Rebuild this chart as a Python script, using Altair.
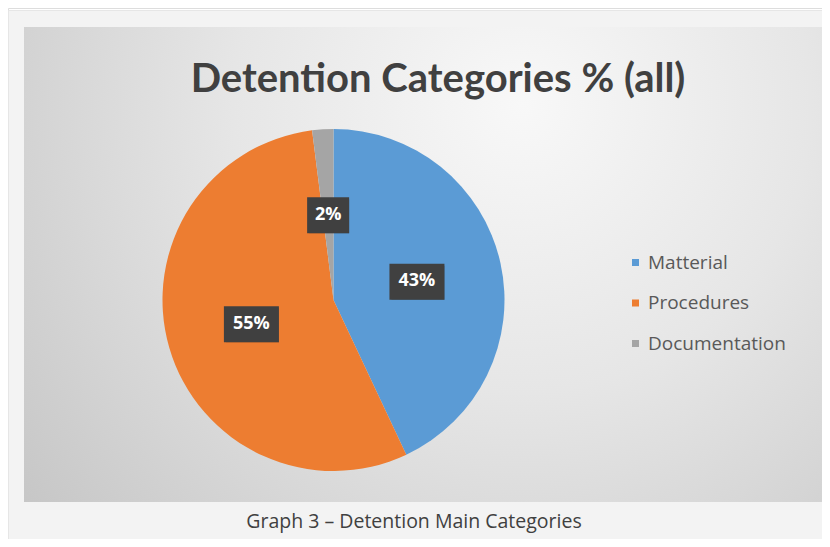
import altair as alt
import pandas as pd

categories = ["Matterial", "Procedures", "Documentation"]
values = [43, 55, 2]
colors = ["#5b9bd5", "#ed7d31", "#a5a5a5"]
title_text = "Detention Categories % (all)"
caption_text = "Graph 3 \u2013 Detention Main Categories"

df = pd.DataFrame({"category": categories, "value": values,
                   "order": list(range(len(categories)))})

W, H = 814, 531
CX, CY, R = 325.5, 292, 171
one = pd.DataFrame({"a": [0]})

outer = alt.Chart(one).mark_rect(color="#f3f3f3", stroke="#e6e6e6", strokeWidth=1).encode(
    x=alt.value(0.5), x2=alt.value(830), y=alt.value(2.5), y2=alt.value(545))

grad = alt.Gradient(
    gradient="radial",
    stops=[alt.GradientStop(color="#f8f8f8", offset=0),
           alt.GradientStop(color="#e6e6e6", offset=0.45),
           alt.GradientStop(color="#c6c6c6", offset=1)],
    x1=0.62, y1=0.3, r1=0, x2=0.62, y2=0.3, r2=0.8)

inner = alt.Chart(one).mark_rect(color=grad).encode(
    x=alt.value(16), x2=alt.value(819), y=alt.value(19), y2=alt.value(494))

pie = alt.Chart(df).mark_arc(radius=R).encode(
    theta=alt.Theta("value:Q", stack=True),
    color=alt.Color("category:N",
                    scale=alt.Scale(domain=categories, range=colors),
                    legend=alt.Legend(orient="none", legendX=618, legendY=245, title=None,
                                      symbolType="square", symbolSize=49, symbolStrokeWidth=0,
                                      labelFontSize=19, labelFont="Open Sans",
                                      labelColor="#595959", rowPadding=20.5, padding=0,
                                      labelOffset=3)),
    order=alt.Order("order:Q"),
    x=alt.value(CX), y=alt.value(CY))

xs = alt.Scale(domain=[-1, 1], range=[CX - R, CX + R], zero=False, nice=False)
ys = alt.Scale(domain=[-1, 1], range=[CY - R, CY + R], zero=False, nice=False)

lab = alt.Chart(df).transform_joinaggregate(
    total="sum(value)"
).transform_window(
    cum="sum(value)", sort=[alt.SortField("order")], frame=[None, 0]
).transform_calculate(
    mid="(datum.cum - datum.value / 2) / datum.total * 2 * PI",
    lx="0.5 * sin(datum.mid)",
    ly="-0.5 * cos(datum.mid)",
    label="datum.value + '%'",
).transform_calculate(
    hw="(16 + 13 * length(datum.label)) / 2 / 171",
).transform_calculate(
    x0="datum.lx - datum.hw", x1="datum.lx + datum.hw",
    y0="datum.ly - 17.5 / 171", y1="datum.ly + 18.5 / 171",
)

shadow = lab.mark_rect(color="#000000", opacity=0.3, xOffset=2, yOffset=2).encode(
    x=alt.X("x0:Q", scale=xs, axis=None), x2="x1:Q",
    y=alt.Y("y0:Q", scale=ys, axis=None), y2="y1:Q")
box = lab.mark_rect(color="#404040").encode(
    x=alt.X("x0:Q", scale=xs, axis=None), x2="x1:Q",
    y=alt.Y("y0:Q", scale=ys, axis=None), y2="y1:Q")
txt = lab.mark_text(color="white", fontWeight="bold", fontSize=18, font="Open Sans",
                    align="center", baseline="middle").encode(
    x=alt.X("lx:Q", scale=xs, axis=None),
    y=alt.Y("ly:Q", scale=ys, axis=None),
    text="label:N")

title = alt.Chart(pd.DataFrame({"t": [title_text]})).mark_text(
    font="Lato", fontWeight="bold", fontSize=40, color="#404040",
    align="center", baseline="alphabetic").encode(
    x=alt.value(430), y=alt.value(84), text="t:N")

caption = alt.Chart(pd.DataFrame({"t": [caption_text]})).mark_text(
    font="Open Sans", fontSize=19.5, color="#404040",
    align="center", baseline="alphabetic").encode(
    x=alt.value(406), y=alt.value(520), text="t:N")

chart = alt.layer(outer, inner, pie, shadow, box, txt, title, caption).properties(
    width=W, height=H, padding=0, autosize=alt.AutoSizeParams(type="none")
).configure_view(stroke=None).configure(background="white")

chart.save("out.html", embed_options={"renderer": "svg", "actions": False})
